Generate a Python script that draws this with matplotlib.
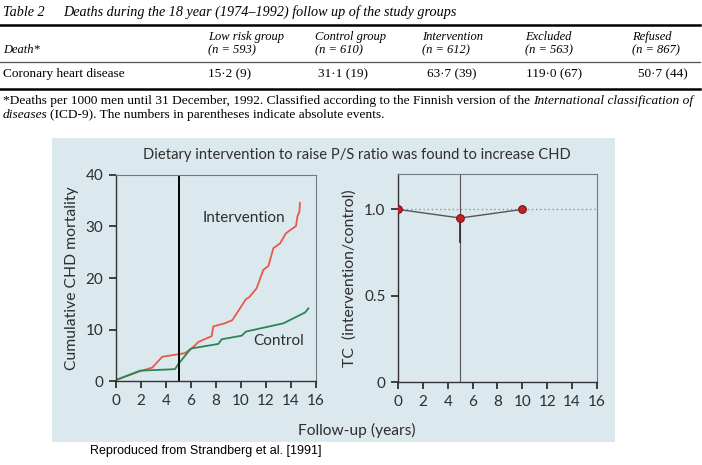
import matplotlib
matplotlib.use("Agg")
import matplotlib.pyplot as plt
from matplotlib.patches import Rectangle

# ---- table data ----
groups = ["Low risk group", "Control group", "Intervention", "Excluded", "Refused"]
group_n = [593, 610, 612, 563, 867]
chd_rate = [15.2, 31.1, 63.7, 119.0, 50.7]
chd_events = [9, 19, 39, 67, 44]

# ---- curves ----
int_years = [0, 1.92, 2.9, 3.7, 5.5, 6.05, 6.6, 7.65, 7.79, 8.7, 9.3, 10.4, 10.67,
             11.25, 11.79, 12.19, 12.59, 13.12, 13.6, 14.4, 14.51, 14.67, 14.72]
int_mort = [0.2, 1.9, 2.6, 4.7, 5.4, 6.3, 7.6, 8.7, 10.6, 11.2, 11.8, 15.9, 16.3,
            18.0, 21.6, 22.3, 25.8, 26.7, 28.7, 30.1, 31.9, 32.9, 34.6]
ctl_years = [0, 1.92, 4.72, 4.99, 5.99, 8.19, 8.45, 10.05, 10.4, 13.39, 15.12, 15.39]
ctl_mort = [0.2, 2.0, 2.3, 3.3, 6.3, 7.2, 8.1, 8.8, 9.6, 11.2, 13.3, 14.1]

tc_years = [0, 5, 10]
tc_ratio = [1.0, 0.95, 1.0]

PANEL = "#dbe8ed"
TXT = "#2e2e2e"
SANS = "Lato"
SERIF = "Liberation Serif"

fig = plt.figure(figsize=(7.02, 4.65), dpi=100)
fig.patch.set_facecolor("white")

# overlay in pixel coordinates for the table part
bg = fig.add_axes([0, 0, 1, 1])
bg.set_xlim(0, 702)
bg.set_ylim(465, 0)
bg.axis("off")
renderer = fig.canvas.get_renderer()


def runs(x, y, parts, size):
    # draw text pieces one after the other, (text, italic)
    for s, ital in parts:
        t = bg.text(x, y, s, fontsize=size, family=SERIF,
                    style="italic" if ital else "normal", va="center", ha="left")
        x += t.get_window_extent(renderer=renderer).width + size * 0.28


runs(3, 12, [("Table 2", True)], 10.2)
runs(63, 12, [("Deaths during the 18 year (1974\u20131992) follow up of the study groups", True)], 10.2)
bg.plot([0, 700], [25, 25], color="black", lw=1.8)
bg.plot([0, 700], [62, 62], color="#555555", lw=0.9)
bg.plot([0, 700], [89, 89], color="black", lw=1.8)

col_x = [208, 315, 422, 525, 632]
val_x = [208, 318, 427, 526, 638]
bg.text(3, 50, "Death*", fontsize=9, family=SERIF, style="italic", va="center")
for i, g in enumerate(groups):
    bg.text(col_x[i], 37, g, fontsize=9, family=SERIF, style="italic", va="center")
    bg.text(col_x[i], 50, "(n = %d)" % group_n[i], fontsize=9, family=SERIF,
            style="italic", va="center")
    val = ("%.1f" % chd_rate[i]).replace(".", "\u00b7")
    bg.text(val_x[i], 74, "%s (%d)" % (val, chd_events[i]), fontsize=9.5,
            family=SERIF, va="center")
bg.text(3, 74, "Coronary heart disease", fontsize=9.5, family=SERIF, va="center")

runs(3, 101, [("*Deaths per 1000 men until 31 December, 1992. Classified according to the "
               "Finnish version of the", False),
              ("International classification of", True)], 9.65)
runs(3, 115, [("diseases", True),
              ("(ICD-9). The numbers in parentheses indicate absolute events.", False)], 9.65)

# light blue panel behind the chart
bg.add_patch(Rectangle((52, 138), 563, 304, facecolor=PANEL, edgecolor="none", zorder=0))

bg.text(357, 155, "Dietary intervention to raise P/S ratio was found to increase CHD",
        fontsize=10.6, family=SANS, color=TXT, ha="center", va="center")
bg.text(357, 430, "Follow-up (years)", fontsize=11.2, family=SANS, color=TXT,
        ha="center", va="center")
bg.text(90, 451, "Reproduced from Strandberg et al. [1991]", fontsize=9,
        family="Liberation Sans", color="black", va="center")

# ---- left panel: cumulative mortality ----
ax1 = fig.add_axes([116 / 702, 1 - 381 / 465, 200 / 702, 206 / 465])
ax1.set_facecolor(PANEL)
ax1.plot(int_years, int_mort, color="#e8594b", lw=1.3)
ax1.plot(ctl_years, ctl_mort, color="#2b8555", lw=1.3)
ax1.axvline(5, color="black", lw=1.4)
ax1.text(10.2, 31.6, "Intervention", fontsize=11, family=SANS, color=TXT,
         ha="center", va="center")
ax1.text(13.0, 7.8, "Control", fontsize=11, family=SANS, color=TXT,
         ha="center", va="center")
ax1.set_xlim(0, 16)
ax1.set_ylim(0, 40)
ax1.set_xticks(range(0, 17, 2))
ax1.set_yticks([0, 10, 20, 30, 40])
ax1.set_ylabel("Cumulative CHD mortality", fontsize=11.3, family=SANS, color=TXT,
               labelpad=5)

# ---- right panel: TC ratio ----
ax2 = fig.add_axes([398 / 702, 1 - 382 / 465, 199 / 702, 208 / 465])
ax2.set_facecolor(PANEL)
ax2.axhline(1.0, color="#8a9aa0", lw=1, ls=(0, (1, 2)))
ax2.axvline(5, color="#555555", lw=0.8)
ax2.plot([5, 5], [0.81, 0.95], color="#333333", lw=1.3)
ax2.plot(tc_years, tc_ratio, color="#555555", lw=1, marker="o", ms=5.5,
         markerfacecolor="#c8202a", markeredgecolor="#7a1010", markeredgewidth=0.8,
         zorder=5)
ax2.set_xlim(0, 16)
ax2.set_ylim(0, 1.205)
ax2.set_xticks(range(0, 17, 2))
ax2.set_yticks([0, 0.5, 1.0])
ax2.set_yticklabels(["0", "0.5", "1.0"])
ax2.set_ylabel("TC  (intervention/control)", fontsize=11.3, family=SANS, color=TXT,
               labelpad=5)

for ax in (ax1, ax2):
    for side in ("top", "right"):
        ax.spines[side].set_color("#6f7a7e")
        ax.spines[side].set_linewidth(0.8)
    for side in ("left", "bottom"):
        ax.spines[side].set_color("#333333")
        ax.spines[side].set_linewidth(1.0)
    ax.tick_params(direction="out", length=5, width=1.2, color="#222222",
                   labelsize=11, labelcolor=TXT, pad=4)
    for lab in ax.get_xticklabels() + ax.get_yticklabels():
        lab.set_family(SANS)

fig.savefig("out.png", dpi=100, facecolor="white")
